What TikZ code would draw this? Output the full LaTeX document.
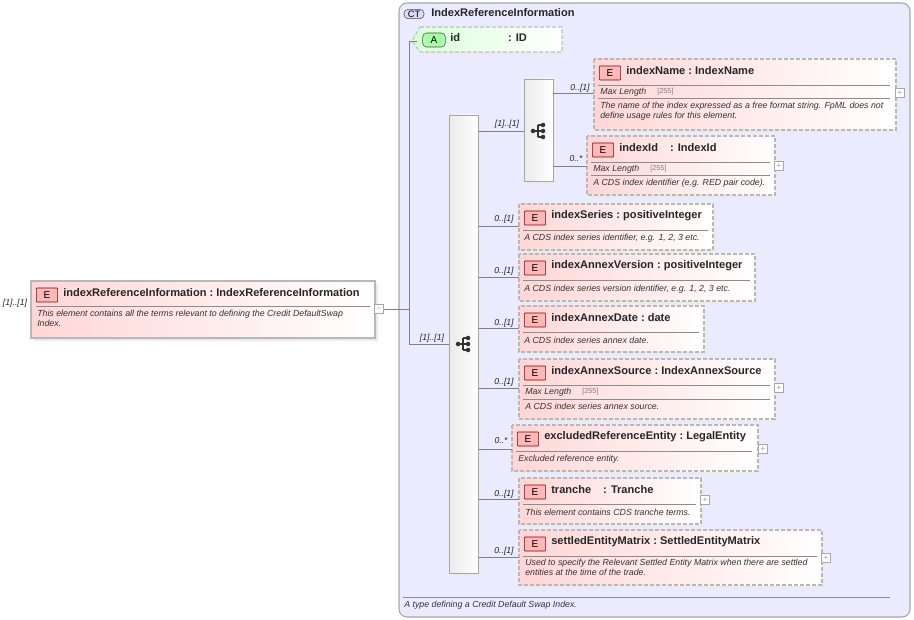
\documentclass[tikz,border=0pt]{standalone}
\usepackage{fontspec}
\setmainfont{Liberation Sans}
\begin{document}
\begin{tikzpicture}[x=0.75pt,y=-0.75pt,
  ebox/.style={draw=black!28,left color=red!16,right color=white,line width=0.8pt},
  dsh/.style={dash pattern=on 3pt off 1.5pt},
  badge/.style={draw=red!50!black,rounded corners=0.5pt,fill=red!28,minimum width=16pt,minimum height=10.5pt,inner sep=0pt,font=\fontsize{7.5}{8}\selectfont},
  ttl/.style={font=\bfseries\fontsize{8.3}{9}\selectfont,text=black!85,inner sep=0pt},
  desc/.style={font=\itshape\fontsize{6.6}{7.6}\selectfont,text=black!80,inner sep=0pt,align=left},
  card/.style={font=\itshape\fontsize{6.5}{7}\selectfont,text=black!85,inner sep=0pt},
  ml/.style={font=\fontsize{5.5}{6}\selectfont,text=black!50,inner sep=0pt},
  sep/.style={draw=black!45,line width=0.6pt},
  plus/.style={draw=black!35,fill=white,minimum size=6.5pt,inner sep=0pt,font=\fontsize{6}{6}\selectfont,text=black!40},
  conn/.style={draw=black!50,line width=0.6pt},
  grp/.style={draw=black!35,left color=black!8,right color=white,line width=0.6pt}]
\newcommand\elbox[8]{%
  \fill[black!8] (#2+3,#3+3) rectangle (#4+3,#5+3);
  \draw[ebox,#7] (#2,#3) rectangle (#4,#5);
  \node[badge] at (#2+16,#3+14) {E};
  \node[ttl,anchor=west] at (#2+32,#3+12) {#6};
  \coordinate (#1) at (#2,#8);}
\newcommand\tree[2]{%
  \draw[line width=0.8pt,black!80] (#1-5,#2) -- (#1,#2) (#1,#2-6) -- (#1,#2+6) (#1,#2-6) -- (#1+5,#2-6) (#1,#2) -- (#1+5,#2) (#1,#2+6) -- (#1+5,#2+6);
  \fill[black!80] (#1-5,#2) circle (1.7pt) (#1+5,#2-6) circle (1.7pt) (#1+5,#2) circle (1.7pt) (#1+5,#2+6) circle (1.7pt);}
\useasboundingbox (0,0) rectangle (914,620);
\fill[white] (0,0) rectangle (914,620);
% CT box
\draw[draw=black!35,fill=blue!8,rounded corners=6pt,line width=0.8pt] (399,3) rectangle (910,617);
\node[draw=black!70,fill=blue!15,rounded corners=3pt,inner sep=1pt,minimum width=15pt,font=\fontsize{7}{8}\selectfont] (ct) at (414,14) {CT};
\node[ttl,anchor=west] (cttl) at (431,13) {IndexReferenceInformation};
\draw[sep] (403,597) -- (890,597);
\node[desc,anchor=west] (ctd) at (404,605) {A type defining a Credit Default Swap Index.};
% root element
\elbox{root}{31}{281}{375}{338}{indexReferenceInformation\ :\ IndexReferenceInformation}{}{309}
\draw[sep] (36,306) -- (370,306);
\node[desc,anchor=north west] (rootd) at (37,310) {This element contains all the terms relevant to defining the Credit DefaultSwap\\Index.};
\node[card] (rc) at (15,303) {[1]..[1]};
\node[plus] (rootp) at (379,309) {--};
% attribute
\fill[black!8] (423,30) -- (565,30) -- (565,55) -- (423,55) -- (414,43) -- cycle;
\draw[draw=black!25,dsh,left color=green!15,right color=white,line width=0.8pt] (420,27) -- (562,27) -- (562,52) -- (420,52) -- (412,41) -- cycle;
\node[draw=black!70,fill=green!35,rounded corners=3pt,inner sep=0pt,minimum width=17pt,minimum height=10.5pt,font=\fontsize{7.5}{8}\selectfont] (ab) at (434,40) {A};
\node[ttl,anchor=west] (at) at (450,38) {id\hspace{36pt}: ID};
% main connectors
\draw[conn] (rootp.east) -- (409,309);
\draw[conn] (409,41) -- (409,344) -- (449,344);
\draw[conn] (409,41) -- (417,41);
\node[card] (sc) at (432,338) {[1]..[1]};
% sequence
\fill[black!8] (452,118) rectangle (481,576);
\draw[grp] (449,115) rectangle (478,573);
\tree{463}{344}
% choice
\fill[black!8] (527,82) rectangle (556,184);
\draw[grp] (524,79) rectangle (553,181);
\tree{538}{131}
\draw[conn] (478,131) -- (524,131);
\node[card] (cc) at (507,124) {[1]..[1]};
% indexName
\elbox{nName}{594}{59}{896}{130}{indexName\ :\ IndexName}{dsh}{93}
\draw[sep] (598,85) -- (890,85); \draw[sep] (598,98) -- (890,98);
\node[desc,anchor=west] at (600,92) {Max Length};
\node[ml,anchor=west] at (657,92) {[255]};
\node[desc,anchor=north west] at (600,102) {The name of the index expressed as a free format string. FpML does not\\define usage rules for this element.};
\node[plus] at (900,93) {+};
\draw[conn] (553,93) -- (nName); \node[card] at (580,88) {0..[1]};
% indexId
\elbox{nId}{587}{136}{775}{195}{indexId\hspace{9pt}: IndexId}{dsh}{166}
\draw[sep] (591,162) -- (770,162); \draw[sep] (591,175) -- (770,175);
\node[desc,anchor=west] at (593,169) {Max Length};
\node[ml,anchor=west] at (650,169) {[255]};
\node[desc,anchor=north west] at (593,179) {A CDS index identifier (e.g. RED pair code).};
\node[plus] at (779,166) {+};
\draw[conn] (553,166) -- (nId); \node[card] at (576,159) {0..*};
% indexSeries
\elbox{nSer}{519}{204}{713}{250}{indexSeries\ :\ positiveInteger}{dsh}{226}
\draw[sep] (523,230) -- (708,230);
\node[desc,anchor=west] at (524,238) {A CDS index series identifier, e.g. 1, 2, 3 etc.};
\draw[conn] (478,226) -- (nSer); \node[card] at (504,219) {0..[1]};
% indexAnnexVersion
\elbox{nVer}{519}{254}{755}{301}{indexAnnexVersion\ :\ positiveInteger}{dsh}{277}
\draw[sep] (523,280) -- (750,280);
\node[desc,anchor=west] at (524,289) {A CDS index series version identifier, e.g. 1, 2, 3 etc.};
\draw[conn] (478,277) -- (nVer); \node[card] at (504,271) {0..[1]};
% indexAnnexDate
\elbox{nDate}{519}{306}{704}{352}{indexAnnexDate\ :\ date}{dsh}{328}
\draw[sep] (523,332) -- (699,332);
\node[desc,anchor=west] at (524,340) {A CDS index series annex date.};
\draw[conn] (478,328) -- (nDate); \node[card] at (504,323) {0..[1]};
% indexAnnexSource
\elbox{nSrc}{519}{359}{775}{419}{indexAnnexSource\ :\ IndexAnnexSource}{dsh}{388}
\draw[sep] (523,385) -- (770,385); \draw[sep] (523,399) -- (770,399);
\node[desc,anchor=west] at (525,392) {Max Length};
\node[ml,anchor=west] at (582,392) {[255]};
\node[desc,anchor=west] at (525,406) {A CDS index series annex source.};
\node[plus] at (779,388) {+};
\draw[conn] (478,388) -- (nSrc); \node[card] at (504,382) {0..[1]};
% excludedReferenceEntity
\elbox{nExc}{512}{425}{758}{471}{excludedReferenceEntity\ :\ LegalEntity}{dsh}{449}
\draw[sep] (516,451) -- (752,451);
\node[desc,anchor=west] at (518,459) {Excluded reference entity.};
\node[plus] at (763,449) {+};
\draw[conn] (478,449) -- (nExc); \node[card] at (501,441) {0..*};
% tranche
\elbox{nTr}{519}{478}{701}{524}{tranche\hspace{9pt}: Tranche}{dsh}{499}
\draw[sep] (523,504) -- (696,504);
\node[desc,anchor=west] at (525,512) {This element contains CDS tranche terms.};
\node[plus] at (705,500) {+};
\draw[conn] (478,499) -- (nTr); \node[card] at (504,494) {0..[1]};
% settledEntityMatrix
\elbox{nSet}{519}{530}{822}{585}{settledEntityMatrix\ :\ SettledEntityMatrix}{dsh}{557}
\draw[sep] (523,556) -- (817,556);
\node[desc,anchor=north west] at (525,559) {Used to specify the Relevant Settled Entity Matrix when there are settled\\entities at the time of the trade.};
\node[plus] at (826,558) {+};
\draw[conn] (478,557) -- (nSet); \node[card] at (504,551) {0..[1]};
\end{tikzpicture}
\end{document}
